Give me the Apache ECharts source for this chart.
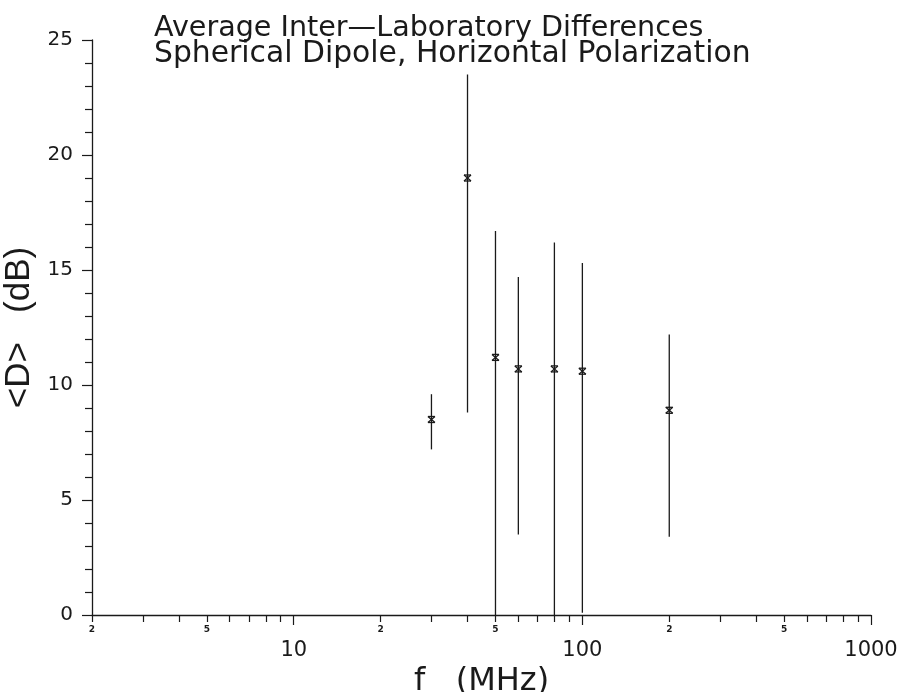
<!DOCTYPE html>
<html>
<head>
<meta charset="utf-8">
<script src="https://cdn.jsdelivr.net/npm/echarts@6/dist/echarts.min.js"></script>
<style>
html, body { margin: 0; padding: 0; background: #fff; }
#chart { width: 900px; height: 692px; }
</style>
</head>
<body>
<div id="chart"></div>
<script>
// values
var freqs = [30, 40, 50, 60, 80, 100, 200];          // MHz
var meanD = [8.5, 19.0, 11.2, 10.7, 10.7, 10.6, 8.9];  // dB
var upperD = [9.6, 23.5, 16.7, 14.7, 16.2, 15.3, 12.2];
var lowerD = [7.2, 8.8, -1.0, 3.5, -1.0, 0.1, 3.4];

var minorTickVals = [2, 3, 4, 5, 6, 7, 8, 9, 20, 30, 40, 50, 60, 70, 80, 90, 200, 300, 400, 500, 600, 700, 800, 900];
var minorLabelVals = [2, 5, 20, 50, 200, 500];
var decadeVals = [10, 100, 1000];

var ink = '#1a1a1a';
var fontFam = '"DejaVu Sans", sans-serif';

var points = freqs.map(function (f, i) {
	return [f, meanD[i], upperD[i], lowerD[i]];
});

var chart = echarts.init(document.getElementById('chart'));

function xAxisBase() {
	return {
		type: 'log',
		logBase: 10,
		min: 2,
		max: 1000,
		position: 'bottom',
		splitLine: { show: false },
		minorTick: { show: false },
		axisLine: { show: true, lineStyle: { color: ink, width: 1.3 } }
	};
}

// minor ticks 2..9 per decade, small leading-digit labels
var xMinor = xAxisBase();
xMinor.axisTick = { show: true, length: 7, lineStyle: { color: ink, width: 1.2 }, customValues: minorTickVals };
xMinor.axisLabel = {
	customValues: minorLabelVals,
	color: ink,
	fontFamily: fontFam,
	fontSize: 9,
	fontWeight: 'bold',
	margin: 10,
	formatter: function (v) { return String(Math.round(v / Math.pow(10, Math.floor(Math.log10(v) + 1e-9)))); }
};

// decade ticks with the big labels
var xMajor = xAxisBase();
xMajor.axisLine = { show: false };
xMajor.axisTick = { show: true, length: 10, lineStyle: { color: ink, width: 1.2 }, customValues: decadeVals };
xMajor.axisLabel = {
	customValues: decadeVals,
	color: ink,
	fontFamily: fontFam,
	fontSize: 21,
	margin: 25,
	formatter: function (v) { return String(Math.round(v)); }
};
xMajor.name = 'f   (MHz)';
xMajor.nameLocation = 'middle';
xMajor.nameGap = 37;
xMajor.nameTextStyle = { color: ink, fontFamily: fontFam, fontSize: 32 };

var option = {
	backgroundColor: '#fff',
	animation: false,
	title: {
		text: '{a|Average Inter\u2014Laboratory Differences}\n{b|Spherical Dipole, Horizontal Polarization}',
		left: 149,
		top: 12,
		textStyle: {
			color: ink,
			fontFamily: fontFam,
			fontWeight: 'normal',
			rich: {
				a: { color: ink, fontFamily: fontFam, fontSize: 28.6, lineHeight: 23 },
				b: { color: ink, fontFamily: fontFam, fontSize: 29.8, lineHeight: 29 }
			}
		}
	},
	grid: { left: 92, right: 29, top: 40, bottom: 77, containLabel: false, outerBoundsMode: 'none' },
	xAxis: [xMinor, xMajor],
	yAxis: {
		type: 'value',
		min: 0,
		max: 25,
		interval: 5,
		splitLine: { show: false },
		axisLine: { show: true, lineStyle: { color: ink, width: 1.3 } },
		axisTick: { show: true, length: 10, lineStyle: { color: ink, width: 1.2 } },
		minorTick: { show: true, splitNumber: 5, length: 7, lineStyle: { color: ink, width: 1.2 } },
		axisLabel: { color: ink, fontFamily: fontFam, fontSize: 20, margin: 19 },
		name: '<D>   (dB)',
		nameLocation: 'middle',
		nameGap: 42,
		nameRotate: 90,
		nameTextStyle: { color: ink, fontFamily: '"Liberation Sans", sans-serif', fontSize: 35 }
	},
	series: [{
		type: 'custom',
		xAxisIndex: 0,
		clip: true,
		data: points,
		encode: { x: 0, y: [1, 2, 3] },
		renderItem: function (params, api) {
			var f = api.value(0);
			var mid = api.coord([f, api.value(1)]);
			var hi = api.coord([f, api.value(2)]);
			var lo = api.coord([f, api.value(3)]);
			var w = 3.5, h = 3;
			var st = { stroke: ink, lineWidth: 1.3 };
			return {
				type: 'group',
				children: [
					{ type: 'line', shape: { x1: hi[0], y1: hi[1], x2: lo[0], y2: lo[1] }, style: st },
					{ type: 'line', shape: { x1: mid[0] - w, y1: mid[1] - h, x2: mid[0] + w, y2: mid[1] + h }, style: st },
					{ type: 'line', shape: { x1: mid[0] - w, y1: mid[1] + h, x2: mid[0] + w, y2: mid[1] - h }, style: st },
					{ type: 'line', shape: { x1: mid[0] - w, y1: mid[1] - h, x2: mid[0] + w, y2: mid[1] - h }, style: st },
					{ type: 'line', shape: { x1: mid[0] - w, y1: mid[1] + h, x2: mid[0] + w, y2: mid[1] + h }, style: st }
				]
			};
		}
	}]
};

chart.setOption(option);
</script>
</body>
</html>
